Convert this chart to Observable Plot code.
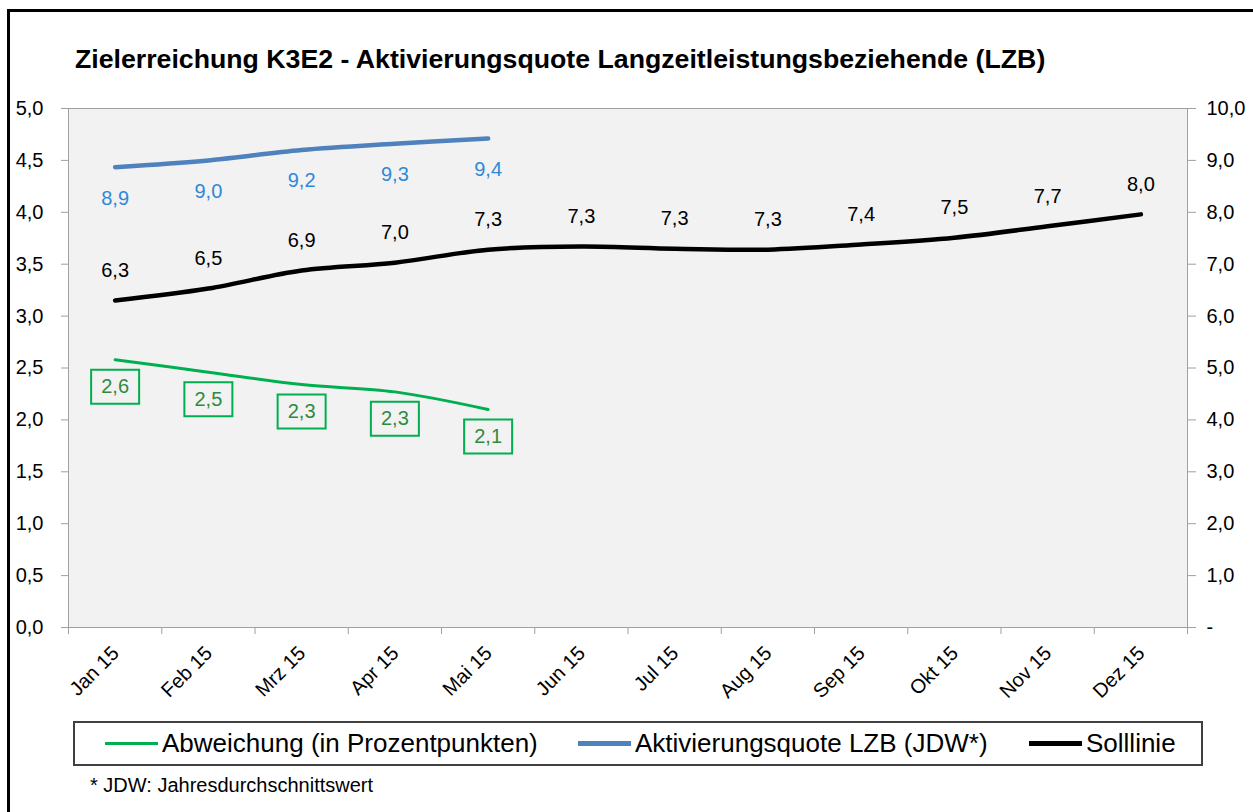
<!DOCTYPE html>
<html><head><meta charset="utf-8">
<script src="https://cdn.jsdelivr.net/npm/d3@7"></script>
<script src="https://cdn.jsdelivr.net/npm/@observablehq/plot@0.6"></script>
<style>
body{margin:0;background:#fff;font-family:'Liberation Sans',Arial,sans-serif;}
#wrap{position:relative;width:1253px;height:812px;overflow:hidden;}
#frame{position:absolute;left:7px;top:9px;width:1300px;height:900px;border-left:3px solid #000;border-top:3px solid #000;}
#title{position:absolute;left:75px;top:46px;font-weight:bold;font-size:26.7px;line-height:26px;white-space:nowrap;color:#000;}
#chart{position:absolute;left:0;top:0;}
#legend{position:absolute;left:73px;top:721px;width:1130px;height:45px;box-sizing:border-box;border:2px solid #404040;background:#fff;}
.item{position:absolute;top:0;height:41px;display:flex;align-items:center;font-size:26px;white-space:nowrap;}
.sw{display:inline-block;width:53px;margin-right:4px;}
#foot{position:absolute;left:90px;top:775px;font-size:20px;line-height:20px;white-space:nowrap;}
</style></head>
<body>
<div id="wrap">
  <div id="frame"></div>
  <div id="chart"></div>
  <div id="title">Zielerreichung K3E2 - Aktivierungsquote Langzeitleistungsbeziehende (LZB)</div>
  <div id="legend">
    <div class="item" style="left:30px"><span class="sw" style="border-top:3px solid #00b050"></span>Abweichung (in Prozentpunkten)</div>
    <div class="item" style="left:503px"><span class="sw" style="border-top:5px solid #4f81bd"></span>Aktivierungsquote LZB (JDW*)</div>
    <div class="item" style="left:954px"><span class="sw" style="border-top:5px solid #000"></span>Solllinie</div>
  </div>
  <div id="foot">* JDW: Jahresdurchschnittswert</div>
</div>
<script>
const months = ["Jan 15","Feb 15","Mrz 15","Apr 15","Mai 15","Jun 15","Jul 15","Aug 15","Sep 15","Okt 15","Nov 15","Dez 15"];
const abweichung = [2.58, 2.46, 2.34, 2.27, 2.10];          // left axis
const aktivierungsquote = [8.87, 9.00, 9.20, 9.32, 9.42];   // right axis
const solllinie = [6.30, 6.53, 6.88, 7.03, 7.28, 7.34, 7.30, 7.28, 7.38, 7.51, 7.73, 7.96]; // right axis
const leftTicks = [0, 0.5, 1, 1.5, 2, 2.5, 3, 3.5, 4, 4.5, 5];
const boundaries = [0,1,2,3,4,5,6,7,8,9,10,11,12];

const fmt = v => v.toFixed(1).replace(".", ",");
const rows = arr => arr.map((v, i) => ({month: months[i], pos: i + 0.5, v}));
const monthRows = months.map((m, i) => ({month: m, pos: i + 0.5}));
const abwRows = rows(abweichung);
const quoteRows = rows(aktivierungsquote);
const sollRows = rows(solllinie);

const gray = "#a0a0a0";
const boxSymbol = { draw(ctx) { ctx.rect(-24, -17, 48, 34); } };

const chart = Plot.plot({
  width: 1253, height: 700,
  marginTop: 108, marginLeft: 68, marginRight: 66, marginBottom: 73,
  x: {type: "linear", domain: [0, 12]},
  y: {domain: [0, 5]},
  style: {fontFamily: "'Liberation Sans', Arial, sans-serif", fontSize: "20px", color: "#000", background: "transparent", overflow: "visible"},
  marks: [
    Plot.frame({fill: "#f2f2f2", stroke: gray}),
    Plot.axisY({ticks: leftTicks, tickSize: 7, tickPadding: 18, tickFormat: fmt, stroke: gray, fill: "#000", fontSize: 20, label: null}),
    Plot.axisY({anchor: "right", ticks: leftTicks, tickSize: 8, tickPadding: 11, tickFormat: d => d === 0 ? "-" : fmt(d * 2), stroke: gray, fill: "#000", fontSize: 20, label: null}),
    Plot.axisX({ticks: boundaries, tickSize: 7, tickFormat: () => "", stroke: gray, label: null}),
    Plot.text(monthRows, {x: "pos", frameAnchor: "bottom", text: "month", rotate: -45, textAnchor: "end", dx: 5, dy: 27, fontSize: 20, fill: "#000"}),
    Plot.line(abwRows, {x: "pos", y: "v", stroke: "#00b050", strokeWidth: 3, curve: "catmull-rom"}),
    Plot.line(quoteRows, {x: "pos", y: d => d.v / 2, stroke: "#4f81bd", strokeWidth: 4.5, curve: "catmull-rom"}),
    Plot.line(sollRows, {x: "pos", y: d => d.v / 2, stroke: "#000", strokeWidth: 4.5, curve: "catmull-rom"}),
    Plot.dot(abwRows, {x: "pos", y: "v", dy: 27, symbol: boxSymbol, r: 5, fill: "none", stroke: "#00b050", strokeWidth: 2}),
    Plot.text(abwRows, {x: "pos", y: "v", dy: 27, text: d => fmt(d.v), fill: "#2e8b3e", fontSize: 20}),
    Plot.text(quoteRows, {x: "pos", y: d => d.v / 2, dy: 31, text: d => fmt(d.v), fill: "#2f88d8", fontSize: 20}),
    Plot.text(sollRows, {x: "pos", y: d => d.v / 2, dy: -30, text: d => fmt(d.v), fill: "#000", fontSize: 20})
  ]
});
document.getElementById("chart").appendChild(chart);
</script>
</body></html>
